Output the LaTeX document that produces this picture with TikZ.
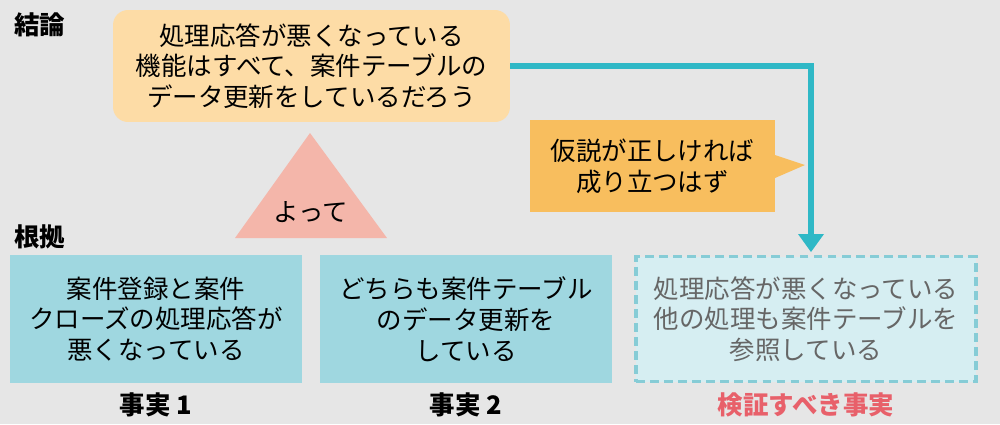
\documentclass[tikz,border=0pt]{standalone}
\usepackage{fontspec}
\setmainfont{Noto Sans CJK JP}
\usetikzlibrary{positioning}
\definecolor{bgcol}{HTML}{E6E6E6}
\definecolor{concol}{HTML}{FDDCA6}
\definecolor{tricol}{HTML}{F4B6AA}
\definecolor{callcol}{HTML}{F8BE5E}
\definecolor{linecol}{HTML}{2FB8C6}
\definecolor{factcol}{HTML}{9FD7E0}
\definecolor{checkcol}{HTML}{D6EEF2}
\definecolor{dashcol}{HTML}{86CCD6}
\definecolor{redcol}{HTML}{E8606A}
\tikzset{
  body/.style={font=\fontsize{14.5}{17.5}\selectfont,align=center},
  factbox/.style={body,fill=factcol,minimum width=5.84cm,minimum height=2.56cm,inner sep=0pt},
  caption/.style={font=\bfseries\fontsize{14.5}{17}\selectfont},
}
\begin{document}
\begin{tikzpicture}[x=0.02cm,y=-0.02cm]
\fill[bgcol] (0,0) rectangle (1000,424);
\useasboundingbox (0,0) rectangle (1000,424);
\node[caption,anchor=west] (ketsuron) at (8,25) {結論};
\node[caption,anchor=west] (konkyo) at (8,237) {根拠};

\node[body,fill=concol,rounded corners=0.3cm,minimum width=7.94cm,minimum height=2.24cm] (concl) at (311.5,66) {処理応答が悪くなっている\\機能はすべて、案件テーブルの\\データ更新をしているだろう};

\fill[tricol] (310,133) -- (387,238) -- (235,238) -- cycle;
\node[body] (yotte) at (311,212) {よって};

\fill[callcol] (530,120) rectangle (775,212);
\fill[callcol] (775,155) -- (805,165) -- (775,178) -- cycle;
\node[body] (hypo) at (652.5,166) {仮説が正しければ\\成り立つはず};

\node[factbox] (fact1) at (156,319) {案件登録と案件\\クローズの処理応答が\\悪くなっている};
\node[factbox] (fact2) at (466,319) {どちらも案件テーブル\\のデータ更新を\\している};
\node[body,fill=checkcol,draw=dashcol,line width=2.2pt,dash pattern=on 5pt off 3pt,minimum width=6.8cm,minimum height=2.5cm,text=black!60] (fact3) at (806,319) {処理応答が悪くなっている\\他の処理も案件テーブルを\\参照している};

\coordinate (bend) at (811,66);
\draw[linecol,line width=3pt] (concl.east) -- (bend) -- (811,236);
\fill[linecol] (798,234) -- (824,234) -- (811,252) -- cycle;

\node[caption] (cap1) at (156,405) {事実 1};
\node[caption] (cap2) at (466,405) {事実 2};
\node[caption,text=redcol] (cap3) at (806,405) {検証すべき事実};
\end{tikzpicture}
\end{document}
